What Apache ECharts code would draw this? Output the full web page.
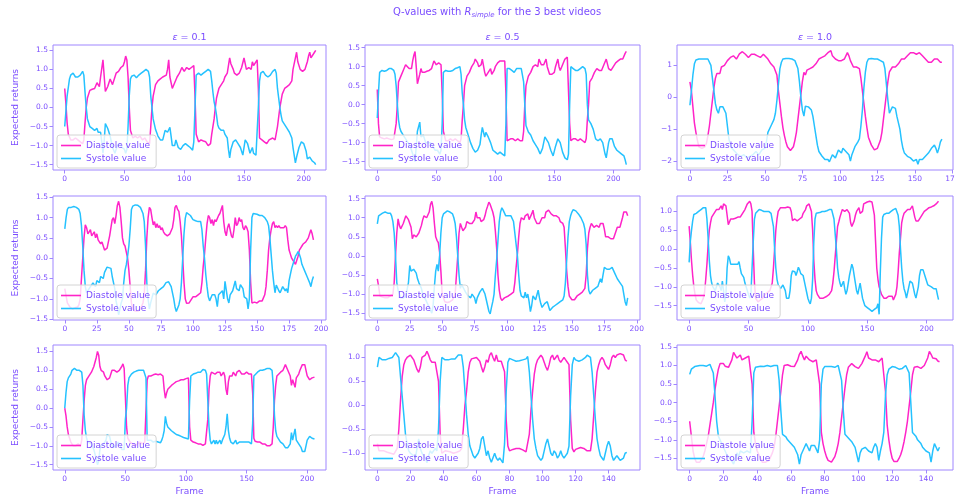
<!DOCTYPE html>
<html>
<head>
<meta charset="utf-8">
<script src="https://cdn.jsdelivr.net/npm/echarts@6/dist/echarts.min.js"></script>
<style>
html,body{margin:0;padding:0;background:#fff}
#chart{width:955px;height:502px}
</style>
</head>
<body>
<div id="chart"></div>
<script>
// Q-values per frame: [frame, value] pairs, one pair per sampled frame.
// Rows are videos 1..3, columns are epsilon 0.1 / 0.5 / 1.0.

const diastoleV1Eps01 = [[0,0.5],[1,0.1],[2,-0.4],[3,-0.7],[5,-0.85],[7,-0.85],[9,-0.8],[11,-0.85],[13,-0.9],[15,-0.95],[16,-0.85],[17,-0.4],[18,0],[19,0.25],[21,0.45],[23,0.48],[25,0.5],[27,0.65],[29,0.55],[30,0.8],[32,1.25],[34,0.42],[36,0.55],[38,0.75],[40,0.6],[43,0.9],[45,0.95],[47,1.05],[49,1.1],[50,1.2],[51,1.35],[52,1.25],[53,0.8],[54,0],[55,-0.6],[57,-0.8],[59,-0.75],[61,-0.8],[63,-0.75],[65,-0.85],[67,-0.8],[69,-0.9],[71,-0.95],[72,-0.5],[73,0],[74,0.3],[76,0.6],[78,0.7],[80,0.75],[82,0.8],[83,0.85],[85,0.85],[86,1],[87,1.25],[88,0.8],[90,0.5],[92,0.65],[94,0.8],[96,0.9],[98,1.05],[100,0.95],[102,1.05],[104,1],[106,1.05],[108,1.1],[109,0.3],[110,-0.7],[112,-0.9],[114,-0.85],[116,-0.88],[118,-0.9],[120,-1],[122,-0.95],[123,-0.7],[125,-0.3],[126,0],[127,0.25],[129,0.5],[131,0.6],[133,0.7],[134,0.8],[136,0.9],[138,1.3],[139,1.15],[141,1],[142,0.9],[144,0.85],[146,0.9],[148,1.05],[150,1.3],[152,1],[154,1.05],[156,1],[157,1.2],[158,1.1],[161,1.25],[162,0.5],[163,-0.8],[165,-0.85],[167,-0.9],[169,-0.95],[171,-0.85],[174,-0.8],[176,-0.85],[177,-0.9],[178,-0.5],[180,0],[182,0.35],[184,0.5],[186,0.55],[188,0.6],[190,0.7],[191,1],[193,1.3],[194,1.45],[195,1.2],[197,1],[199,0.95],[201,1],[202,1.1],[203,1.2],[204,1.35],[205,1.45],[206,1.3],[207,1.35],[209,1.45],[210,1.5]];
const systoleV1Eps01 = [[0,-0.5],[1,-0.1],[2,0.3],[4,0.75],[5,0.85],[7,0.9],[9,0.8],[11,0.8],[13,0.85],[15,0.95],[16,0.85],[17,0.4],[18,0],[19,-0.3],[21,-0.5],[23,-0.55],[25,-0.6],[27,-0.55],[28,-0.65],[29,-0.7],[30,-0.65],[31,-0.9],[32,-1.2],[33,-0.9],[34,-0.42],[36,-0.55],[38,-0.75],[40,-1.05],[42,-1.2],[44,-1],[46,-0.95],[48,-1.05],[50,-1.1],[51,-1.2],[52,-1.1],[53,-0.5],[54,0.3],[55,0.75],[56,0.82],[58,0.85],[60,0.78],[62,0.85],[64,0.9],[66,0.95],[68,1],[70,0.95],[71,0.8],[72,0.3],[73,0],[74,-0.3],[76,-0.58],[78,-0.75],[80,-0.85],[82,-0.85],[84,-0.6],[86,-0.65],[88,-0.52],[89,-0.75],[90,-1],[92,-1],[93,-0.85],[95,-1.05],[97,-1.1],[99,-1],[101,-0.95],[103,-1],[105,-1.05],[107,-1.12],[108,-0.9],[109,0],[110,0.85],[112,0.9],[114,0.85],[116,0.9],[118,0.95],[120,1],[122,0.95],[123,0.7],[124,0.4],[125,0.15],[126,0],[127,-0.2],[128,-0.45],[129,-0.54],[131,-0.6],[133,-0.6],[134,-0.7],[136,-0.8],[137,-1.1],[138,-1.32],[139,-1.1],[141,-0.9],[143,-0.85],[145,-0.95],[147,-1.05],[149,-1.25],[151,-0.85],[153,-0.95],[155,-1.2],[157,-1.05],[158,-1.2],[160,-1.25],[161,-1.2],[162,0],[163,0.7],[164,0.9],[166,0.95],[168,0.85],[170,0.8],[172,0.85],[174,0.95],[176,1],[177,0.9],[178,0.5],[179,0.25],[180,0],[181,-0.2],[182,-0.35],[184,-0.45],[186,-0.55],[188,-0.65],[190,-0.8],[191,-1.05],[193,-1.45],[194,-1.3],[196,-1.05],[198,-0.9],[200,-0.95],[202,-1.15],[203,-1.35],[205,-1.3],[207,-1.4],[209,-1.45],[210,-1.5]];

const diastoleV1Eps05 = [[0,0.4],[1,-0.5],[2,-0.85],[4,-0.88],[6,-0.9],[8,-0.88],[10,-0.9],[12,-0.92],[14,-0.9],[15,-0.85],[16,-0.5],[17,0],[18,0.6],[20,0.75],[22,0.9],[24,1.05],[25,1],[27,0.95],[29,0.95],[30,1.15],[31,1.3],[32,1.4],[33,1],[34,0.55],[36,0.8],[37,0.95],[38,0.85],[40,0.85],[42,0.88],[44,0.9],[46,0.95],[48,1.15],[50,1.05],[52,1.1],[53,1.15],[54,1.05],[55,0.3],[56,-0.7],[58,-0.95],[60,-0.95],[62,-0.9],[64,-0.95],[66,-0.9],[68,-0.95],[70,-1],[71,-0.9],[72,-0.4],[73,0],[74,0.5],[76,0.75],[78,0.85],[80,1],[82,1.1],[83,1.2],[85,1.1],[86,1],[88,1.05],[89,1.2],[91,0.85],[92,0.75],[94,0.85],[96,0.95],[97,0.8],[99,0.9],[100,1],[102,1.1],[104,1.15],[106,1.15],[108,1.15],[109,0.3],[110,-0.95],[111,-1],[113,-0.9],[115,-0.9],[117,-0.95],[119,-0.9],[121,-0.95],[123,-0.95],[124,-0.7],[125,0],[126,0.5],[128,0.75],[130,0.85],[132,1],[134,1.05],[136,1],[137,1.2],[139,1.05],[141,1.05],[143,1.2],[144,1],[146,0.8],[148,0.8],[150,0.85],[151,1],[153,1.2],[154,1],[155,0.9],[157,1.05],[159,1.2],[161,1.25],[162,1.2],[163,-0.5],[164,-0.95],[166,-0.9],[168,-0.9],[170,-0.95],[172,-0.9],[174,-0.95],[176,-1],[177,-0.9],[178,-0.4],[179,0],[180,0.6],[182,0.7],[184,0.85],[186,0.95],[188,0.9],[190,0.9],[192,1.05],[194,1.2],[196,0.95],[198,0.9],[200,1],[202,1.1],[204,1.15],[206,1.2],[208,1.2],[210,1.35],[211,1.4]];
const systoleV1Eps05 = [[0,-0.35],[1,0.3],[2,0.85],[4,0.9],[6,0.88],[8,0.9],[10,0.95],[12,0.95],[14,0.9],[15,0.8],[16,0.5],[17,0],[18,-0.4],[19,-0.6],[20,-0.7],[22,-0.8],[24,-0.9],[26,-1],[28,-1.1],[30,-1.3],[32,-1.5],[33,-1.1],[34,-0.7],[36,-0.46],[37,-0.85],[39,-0.8],[41,-1],[43,-1],[45,-1],[47,-1.1],[49,-1.2],[51,-1.2],[53,-1.3],[54,-1.2],[55,-0.5],[56,0.85],[58,0.9],[60,0.88],[62,0.88],[64,0.9],[66,0.95],[68,0.97],[70,1],[71,0.8],[72,0.3],[73,0],[74,-0.4],[75,-0.6],[77,-0.8],[79,-1],[81,-1.15],[83,-1.25],[85,-1.2],[87,-1.05],[88,-0.8],[89,-0.6],[91,-0.85],[92,-0.73],[94,-0.85],[96,-1],[98,-1.2],[100,-1.25],[102,-1.3],[104,-1.25],[106,-1.3],[108,-1.35],[109,-0.5],[110,0.95],[112,0.95],[114,0.9],[116,0.85],[118,0.95],[120,0.95],[122,0.95],[123,1],[124,0.6],[125,0],[126,-0.55],[128,-0.72],[130,-0.8],[132,-0.95],[134,-1.05],[136,-1.15],[138,-1.3],[140,-1.15],[142,-0.85],[143,-0.8],[145,-1],[147,-1.2],[149,-1.35],[151,-1.1],[153,-0.9],[155,-1],[157,-1.25],[159,-1.4],[161,-1.45],[162,-1.3],[163,0],[164,1],[166,0.95],[168,0.9],[170,0.9],[172,0.95],[174,1],[176,0.95],[177,0.8],[178,0],[179,-0.4],[181,-0.5],[183,-0.65],[185,-0.9],[187,-0.95],[189,-0.9],[191,-1],[193,-1.3],[194,-1.4],[196,-1],[197,-0.9],[199,-0.9],[201,-1.1],[203,-1.2],[205,-1.25],[207,-1.3],[209,-1.35],[210,-1.45],[211,-1.58]];

const diastoleV1Eps10 = [[0,0.48],[1,0.2],[2,-0.3],[3,-0.8],[4,-1.1],[5,-1.35],[6,-1.55],[8,-1.6],[10,-1.55],[11,-1.45],[12,-1.2],[13,-0.9],[14,-0.5],[15,-0.1],[16,0.3],[17,0.6],[18,0.75],[19,0.7],[20,0.75],[21,0.95],[23,1],[25,1.15],[27,1.25],[29,1.3],[31,1.2],[33,1.36],[35,1.43],[37,1.35],[39,1.25],[41,1.35],[43,1.35],[45,1.3],[47,1.25],[49,1.35],[50,1.4],[52,1.2],[54,1.05],[56,0.95],[57,0.9],[58,0.7],[59,0.2],[60,-0.2],[61,-0.6],[62,-0.95],[63,-1.2],[64,-1.4],[65,-1.55],[67,-1.67],[69,-1.55],[70,-1.35],[71,-1.1],[72,-0.7],[73,-0.3],[74,0.1],[75,0.5],[76,0.78],[77,0.7],[78,0.85],[80,0.9],[82,0.95],[84,1.05],[86,1.2],[88,1.25],[90,1.3],[92,1.4],[94,1.46],[95,1.3],[97,1.2],[99,1.15],[101,1.15],[103,1.2],[105,1.4],[106,1.3],[107,1.15],[109,0.95],[111,0.95],[113,0.9],[114,0.6],[115,0.2],[116,-0.2],[117,-0.6],[118,-0.95],[119,-1.25],[121,-1.5],[123,-1.65],[125,-1.6],[127,-1.35],[128,-1.1],[129,-0.7],[130,-0.3],[131,0.1],[132,0.5],[133,0.8],[134,0.75],[135,0.95],[137,0.95],[139,1.05],[141,1.2],[143,1.2],[145,1.3],[147,1.4],[149,1.4],[151,1.35],[153,1.4],[155,1.3],[157,1.2],[159,1.1],[161,1.1],[163,1.2],[165,1.2],[167,1.1],[168,1.1]];
const systoleV1Eps10 = [[0,-0.25],[1,0.2],[2,0.7],[3,1.05],[4,1.17],[6,1.2],[8,1.2],[10,1.2],[12,1.2],[13,1.15],[14,1],[15,0.6],[16,0.2],[17,-0.2],[18,-0.4],[19,-0.5],[20,-0.3],[21,-0.25],[22,-0.3],[23,-0.3],[24,-0.5],[25,-0.9],[26,-1.3],[27,-1.5],[28,-1.6],[30,-1.7],[32,-1.8],[34,-1.85],[36,-1.8],[38,-1.9],[40,-1.85],[42,-1.8],[44,-1.7],[46,-1.8],[48,-1.65],[50,-1.6],[51,-1.4],[52,-1.1],[54,-0.9],[56,-0.7],[57,-0.5],[58,-0.1],[59,0.4],[60,0.9],[61,1.1],[62,1.2],[64,1.22],[66,1.22],[68,1.2],[70,1.15],[71,1.1],[72,0.9],[73,0.5],[74,0],[75,-0.4],[76,-0.59],[77,-0.28],[79,-0.3],[81,-0.4],[82,-0.6],[83,-0.9],[84,-1.2],[85,-1.5],[86,-1.7],[88,-1.84],[90,-1.95],[92,-1.95],[93,-2.02],[95,-1.8],[96,-1.75],[97,-1.9],[99,-1.65],[101,-1.75],[102,-1.6],[104,-1.7],[106,-1.8],[107,-2],[108,-1.8],[110,-1.55],[112,-1.4],[113,-1.3],[114,-0.9],[115,-0.4],[116,0.3],[117,0.8],[118,1.1],[119,1.2],[121,1.22],[123,1.2],[125,1.2],[127,1.15],[129,1.1],[130,0.9],[131,0.4],[132,-0.1],[133,-0.5],[134,-0.55],[135,-0.3],[136,-0.35],[137,-0.35],[138,-0.6],[140,-1],[141,-1.35],[142,-1.6],[143,-1.75],[145,-1.85],[147,-1.9],[149,-2],[151,-1.95],[152,-2.1],[153,-1.95],[155,-1.95],[157,-1.85],[158,-1.9],[159,-1.75],[161,-1.6],[163,-1.5],[164,-1.6],[165,-1.75],[166,-1.6],[167,-1.4],[168,-1.31]];

const diastoleV2Eps01 = [[0,-0.75],[2,-1.1],[4,-1.2],[6,-1.25],[8,-1.22],[10,-1.2],[11,-1.15],[12,-1],[13,-0.5],[14,0],[15,0.5],[16,0.82],[17,0.75],[18,0.6],[19,0.65],[20,0.7],[21,0.55],[22,0.6],[23,0.65],[24,0.5],[25,0.6],[26,0.45],[27,0.45],[28,0.35],[29,0.4],[31,0.2],[33,0.25],[34,0.4],[35,0.55],[36,0.75],[37,0.95],[38,1],[39,0.85],[40,1.05],[41,1.3],[42,1.4],[43,1.25],[44,0.9],[45,0.5],[46,0.35],[47,0.3],[48,0.15],[49,0],[50,-0.3],[51,-0.7],[52,-1.1],[53,-1.25],[55,-1.3],[57,-1.3],[59,-1.25],[61,-1.1],[62,-0.9],[63,-0.3],[64,0.5],[65,1],[66,1.25],[67,1.2],[68,1],[69,0.82],[70,0.9],[71,0.75],[72,0.85],[73,0.75],[74,0.8],[75,0.7],[76,0.75],[77,0.65],[78,0.6],[80,0.55],[82,0.6],[84,0.75],[85,0.95],[86,1.25],[87,1.3],[88,1.2],[89,1.15],[90,0.9],[91,0.55],[92,0],[93,-0.6],[94,-1],[95,-1.11],[96,-1.15],[97,-1.1],[98,-1.05],[100,-0.95],[102,-0.95],[104,-0.9],[106,-0.85],[107,-0.6],[108,-0.2],[109,0.1],[110,0.5],[111,0.85],[112,1.05],[113,1],[114,0.85],[115,0.95],[116,0.8],[117,0.95],[118,0.9],[120,1.05],[121,1.1],[122,1.2],[123,1.3],[124,0.9],[125,0.65],[126,0.55],[127,0.75],[128,0.85],[129,0.7],[130,0.55],[131,0.5],[132,0.7],[133,1],[134,0.8],[135,0.85],[136,1],[137,0.9],[138,0.95],[139,0.75],[140,0.7],[141,0.8],[142,0.75],[143,0.65],[144,0.2],[145,-0.6],[146,-1.1],[147,-1.12],[148,-1.08],[150,-1.1],[152,-1.05],[154,-1.05],[156,-0.9],[157,-0.7],[158,-0.3],[159,0.2],[160,0.5],[161,0.7],[162,0.85],[163,0.9],[164,0.75],[165,0.8],[166,0.75],[167,0.8],[168,0.75],[169,0.78],[171,0.75],[172,0.8],[173,0.75],[174,0.45],[175,0.2],[176,0.1],[177,0],[178,-0.05],[179,-0.1],[180,-0.15],[181,-0.15],[182,0.05],[183,0.2],[184,0.25],[185,0.3],[186,0.35],[187,0.35],[188,0.4],[189,0.45],[190,0.5],[191,0.6],[192,0.7],[193,0.6],[194,0.45]];
const systoleV2Eps01 = [[0,0.72],[1,1],[2,1.2],[3,1.25],[5,1.25],[7,1.27],[9,1.25],[11,1.2],[12,1.1],[13,0.8],[14,0.3],[15,-0.3],[16,-0.7],[17,-0.85],[18,-0.8],[20,-0.7],[22,-0.61],[24,-0.7],[25,-0.55],[27,-0.6],[28,-0.45],[30,-0.5],[31,-0.35],[33,-0.22],[34,-0.2],[36,-0.25],[37,-0.45],[38,-0.6],[39,-0.75],[40,-1.05],[41,-1.2],[42,-1.39],[43,-1.25],[44,-1.1],[45,-1],[46,-0.6],[47,-0.3],[48,-0.16],[49,0.05],[50,0.3],[51,0.7],[52,1.2],[53,1.28],[55,1.31],[57,1.3],[59,1.25],[61,1.1],[62,0.9],[63,0.3],[64,-0.6],[65,-1],[66,-1.25],[67,-1.1],[69,-0.86],[71,-0.9],[73,-0.8],[75,-0.75],[77,-0.7],[79,-0.6],[81,-0.58],[83,-0.7],[85,-1],[86,-1.2],[87,-1.31],[89,-1.15],[90,-1],[91,-0.6],[92,0],[93,0.6],[94,0.98],[95,1.12],[96,1.15],[98,1.05],[100,0.95],[102,0.92],[104,0.9],[106,0.9],[107,0.7],[108,0.3],[109,0],[110,-0.4],[111,-0.7],[112,-0.95],[113,-1.05],[115,-0.9],[117,-0.9],[118,-1],[119,-1.19],[120,-0.9],[121,-0.9],[123,-0.8],[124,-1],[125,-0.57],[127,-1],[128,-1.1],[129,-0.9],[131,-0.8],[133,-0.56],[134,-0.75],[136,-0.8],[137,-0.65],[139,-0.75],[140,-0.95],[142,-1],[143,-1.25],[144,-1],[145,0.2],[146,1],[147,1.1],[148,1.12],[150,1.08],[152,1.05],[154,1.05],[156,1],[158,0.9],[159,0.8],[160,0.5],[161,0.1],[162,-0.3],[163,-0.6],[164,-0.85],[165,-0.66],[166,-0.7],[167,-0.8],[168,-0.85],[170,-0.7],[172,-0.8],[173,-0.75],[174,-0.85],[175,-0.55],[176,-0.4],[177,-0.25],[178,-0.15],[179,-0.05],[180,0.05],[181,0.1],[182,0.16],[183,0.1],[184,0],[185,-0.15],[187,-0.3],[189,-0.45],[191,-0.6],[192,-0.7],[193,-0.55],[194,-0.45]];

const diastoleV2Eps05 = [[0,-0.6],[1,-0.8],[2,-1.05],[4,-1.08],[6,-1.1],[8,-1.1],[10,-1.05],[12,-1],[13,-0.7],[14,0],[15,0.6],[16,0.97],[17,0.8],[18,0.71],[19,0.75],[20,0.85],[21,0.9],[22,1.05],[23,1],[24,0.95],[25,0.9],[26,0.75],[27,0.45],[28,0.55],[29,0.6],[30,0.5],[31,0.55],[32,0.6],[33,0.7],[34,0.8],[35,0.95],[36,1.05],[37,1.05],[38,1],[39,1.05],[40,1.15],[41,1.35],[42,1.43],[43,1.25],[44,0.85],[45,0.5],[46,0.41],[47,0.35],[48,0.1],[49,-0.4],[50,-1],[51,-1.1],[52,-1.2],[54,-1.22],[56,-1.2],[58,-1.15],[59,-1.1],[60,-1],[61,-0.5],[62,0],[63,0.6],[64,0.85],[65,0.75],[66,0.66],[67,0.7],[68,0.75],[69,0.9],[70,0.95],[71,0.85],[72,0.9],[73,0.85],[74,0.9],[75,0.95],[76,1.15],[77,1],[78,0.95],[79,1],[80,0.9],[81,0.85],[82,0.95],[83,1.05],[84,1.2],[85,1.3],[86,1.41],[87,1.35],[88,1.3],[89,1.15],[90,1],[91,0.65],[92,0.2],[93,-0.5],[94,-0.9],[95,-1.1],[96,-1.17],[97,-1.15],[98,-1.1],[99,-1.05],[101,-1.05],[103,-1],[105,-0.95],[106,-0.7],[107,-0.3],[108,0.05],[109,0.5],[110,0.85],[111,1],[112,1.05],[113,0.95],[114,1.05],[115,1],[116,1.1],[117,0.95],[118,1],[119,1.1],[120,1.2],[121,1],[122,0.95],[123,0.85],[124,0.9],[125,0.85],[126,0.9],[127,1],[128,1.05],[129,1],[130,1.15],[131,1.2],[132,1.2],[133,1.15],[134,1.1],[135,1.1],[136,1.05],[138,1.05],[140,1],[141,0.9],[143,0.85],[144,0.75],[145,0.2],[146,-0.4],[147,-0.8],[148,-1.05],[150,-1.15],[151,-1.2],[152,-1.15],[154,-1.05],[156,-1],[158,-0.95],[160,-0.85],[161,-0.5],[162,0.2],[163,0.6],[164,0.75],[165,0.85],[166,0.8],[167,0.75],[168,0.8],[169,0.8],[170,0.85],[171,0.75],[172,0.85],[173,0.8],[174,0.85],[175,0.7],[176,0.5],[177,0.45],[178,0.5],[179,0.5],[180,0.45],[181,0.4],[182,0.45],[183,0.55],[184,0.6],[185,0.75],[186,0.8],[187,0.75],[188,0.8],[189,1],[190,1.15],[191,1.2],[192,1.15],[193,1.05]];
const systoleV2Eps05 = [[0,0.84],[1,1.05],[2,1.1],[4,1.12],[6,1.15],[8,1.12],[10,1.12],[11,1.05],[12,0.9],[13,0.6],[14,0],[15,-0.7],[16,-0.9],[17,-1],[18,-1.1],[20,-1.1],[22,-1.05],[24,-0.7],[25,-0.25],[26,-0.4],[27,-0.45],[28,-0.35],[30,-0.45],[31,-0.6],[32,-0.7],[33,-0.75],[34,-0.85],[35,-1],[36,-1.05],[38,-1.2],[40,-1.35],[42,-1.5],[43,-1.3],[44,-0.8],[45,-0.4],[46,-0.22],[47,-0.4],[48,0],[49,0.6],[50,1],[51,1.1],[52,1.15],[54,1.18],[56,1.15],[58,1.1],[59,1],[60,0.85],[61,0.5],[62,0],[63,-0.5],[64,-0.85],[65,-0.75],[66,-0.8],[68,-0.95],[70,-1.05],[71,-1],[72,-1.1],[73,-1],[75,-1.1],[76,-1.25],[77,-1.1],[79,-0.95],[81,-0.85],[82,-0.9],[83,-1],[84,-1.15],[85,-1.3],[86,-1.45],[87,-1.52],[88,-1.35],[89,-1.2],[90,-1],[91,-0.5],[92,-0.1],[93,0.4],[94,0.9],[95,1.15],[96,1.26],[97,1.2],[98,1.15],[99,1.05],[101,1.05],[103,1.05],[104,1],[105,0.9],[106,0.6],[107,0.3],[108,0],[109,-0.5],[110,-0.9],[111,-1.05],[112,-1],[113,-1.1],[114,-0.95],[115,-1.1],[116,-1],[117,-1.2],[118,-1.46],[119,-1.3],[120,-1.05],[121,-1],[122,-1.15],[123,-1.1],[124,-0.9],[125,-1.1],[126,-1.25],[127,-1.35],[129,-1.25],[131,-1.2],[133,-1.43],[135,-1.35],[137,-1.3],[139,-1.25],[141,-1.2],[143,-1.15],[144,-1.05],[145,-0.7],[146,-0.1],[147,0.5],[148,0.9],[149,1.05],[150,1.15],[151,1.21],[152,1.22],[153,1.18],[155,1.1],[157,1],[159,0.85],[160,0.7],[161,0.3],[162,-0.5],[163,-0.9],[164,-1],[165,-0.95],[166,-0.9],[168,-0.85],[170,-0.8],[171,-0.7],[172,-0.6],[173,-0.7],[174,-0.5],[175,-0.3],[176,-0.25],[177,-0.35],[178,-0.4],[179,-0.35],[181,-0.3],[182,-0.35],[183,-0.45],[185,-0.6],[187,-0.7],[188,-0.75],[189,-0.8],[190,-1],[191,-1.2],[192,-1.3],[193,-1.1]];

const diastoleV2Eps10 = [[0,0.61],[1,0.2],[2,-0.3],[3,-0.7],[4,-1],[5,-1.2],[6,-1.35],[7,-1.4],[8,-1.42],[10,-1.45],[11,-1.4],[12,-1.3],[13,-1.15],[14,-0.8],[15,-0.4],[16,0.1],[17,0.5],[18,0.7],[19,0.85],[21,0.95],[23,1.05],[24,1.1],[25,1.05],[26,1.1],[27,1.15],[28,1.05],[29,1.2],[30,1.25],[31,1.15],[32,0.9],[33,0.65],[34,0.7],[35,0.8],[37,0.8],[39,0.82],[41,0.85],[43,0.85],[45,0.95],[47,1.05],[49,1.2],[51,1.27],[52,1.2],[53,1],[54,0],[55,-0.9],[56,-1.3],[57,-1.35],[58,-1.4],[60,-1.35],[62,-1.3],[64,-1.2],[66,-1.15],[68,-1.1],[70,-0.9],[71,-0.5],[72,0],[73,0.5],[74,0.8],[75,1],[77,1.1],[79,1.1],[81,1.1],[83,1.12],[84,1.15],[85,1.1],[86,1],[87,0.76],[88,0.8],[89,0.8],[90,0.75],[91,0.75],[92,0.72],[93,0.8],[94,0.8],[95,0.85],[96,0.95],[97,1],[98,1.05],[99,1.15],[100,1.2],[101,1.2],[102,1.15],[103,1],[104,0.5],[105,-0.3],[106,-0.8],[107,-1.1],[108,-1.2],[110,-1.3],[111,-1.34],[113,-1.3],[114,-1.25],[116,-1.25],[118,-1.2],[120,-1.1],[121,-0.9],[122,-0.6],[123,-0.2],[124,0.2],[125,0.6],[126,0.72],[127,0.85],[128,0.95],[129,1.05],[131,1],[133,1.05],[134,1.1],[135,0.95],[136,0.7],[137,0.6],[138,0.65],[139,0.75],[140,0.9],[141,1],[142,1.05],[143,1.1],[144,0.95],[145,0.9],[146,1],[147,1.2],[148,1.25],[150,1.25],[152,1.27],[154,1.25],[155,1.2],[156,0.9],[157,0.2],[158,-0.5],[159,-0.8],[160,-1],[161,-1.05],[162,-1.2],[163,-1.25],[164,-1.3],[166,-1.3],[168,-1.25],[169,-1.3],[171,-1.25],[172,-1.35],[173,-1.3],[174,-1.2],[175,-1],[176,-0.6],[177,-0.1],[178,0.3],[179,0.7],[180,0.85],[181,0.95],[182,1],[184,1.05],[186,1.05],[187,1.1],[188,1.15],[189,1],[190,0.85],[191,0.75],[192,0.72],[193,0.75],[194,0.8],[195,0.85],[196,0.9],[198,1],[200,1.05],[202,1.1],[204,1.12],[206,1.15],[208,1.2],[210,1.27]];
const systoleV2Eps10 = [[0,-0.35],[1,0.2],[2,0.5],[3,0.75],[4,0.92],[6,0.95],[8,1],[10,1.05],[12,1.1],[13,1.15],[14,1.1],[15,0.8],[16,0.3],[17,-0.3],[18,-0.7],[19,-0.9],[20,-1],[21,-1.05],[22,-1.1],[23,-1.05],[24,-0.9],[25,-0.95],[26,-1],[27,-1.1],[28,-0.85],[29,-1.1],[30,-1.4],[31,-1.2],[32,-0.5],[33,-0.18],[34,-0.25],[35,-0.4],[36,-0.45],[37,-0.4],[39,-0.4],[41,-0.4],[42,-0.33],[43,-0.5],[44,-0.65],[45,-0.6],[46,-0.75],[47,-0.9],[48,-1],[49,-1.1],[50,-1.2],[51,-1.3],[52,-1.2],[53,-0.5],[54,0.2],[55,0.8],[56,0.95],[57,1],[59,1.05],[61,1.03],[63,1],[65,1],[67,1],[69,0.95],[70,0.9],[71,0.6],[72,0],[73,-0.5],[74,-0.8],[75,-0.95],[76,-1],[77,-1.05],[78,-1],[79,-0.95],[80,-1],[81,-1.1],[82,-1.3],[83,-1.35],[84,-1.3],[85,-1.1],[86,-0.7],[87,-0.58],[88,-0.55],[89,-0.6],[90,-0.7],[91,-0.6],[92,-0.48],[93,-0.55],[94,-0.65],[95,-0.6],[96,-0.7],[97,-0.85],[98,-1],[99,-1.15],[100,-1.3],[101,-1.39],[102,-1.45],[103,-1.3],[104,-0.8],[105,0.2],[106,0.8],[107,0.95],[108,0.97],[110,0.97],[112,1],[114,1],[116,1.02],[118,1.05],[120,1.05],[121,1],[122,0.8],[123,0.4],[124,0],[125,-0.5],[126,-0.75],[127,-0.9],[128,-1],[129,-0.95],[130,-0.85],[131,-1.05],[132,-1.2],[133,-1.1],[134,-0.9],[135,-0.7],[136,-0.55],[137,-0.4],[138,-0.5],[139,-0.7],[140,-0.9],[141,-1.1],[142,-1.2],[143,-1.05],[144,-0.9],[145,-1.1],[146,-1.3],[147,-1.4],[148,-1.5],[150,-1.55],[152,-1.6],[154,-1.65],[155,-1.7],[156,-1.6],[158,-1.55],[159,-1.45],[160,-1.73],[161,-0.6],[162,0.3],[163,0.85],[164,0.92],[166,0.95],[168,0.95],[170,1],[172,1.05],[174,1.08],[175,1.05],[176,0.9],[177,0.6],[178,0],[179,-0.5],[180,-0.85],[181,-1.05],[182,-1.15],[183,-1.3],[184,-1.15],[185,-1],[186,-0.85],[187,-0.8],[188,-0.9],[189,-1.05],[190,-1.2],[191,-1.3],[192,-1.25],[193,-1],[194,-0.7],[195,-0.55],[196,-0.51],[197,-0.55],[198,-0.6],[199,-0.75],[200,-0.85],[201,-0.95],[202,-1],[204,-1],[206,-1.05],[207,-1],[208,-1.05],[209,-1.2],[210,-1.34]];

const diastoleV3Eps01 = [[0,0],[1,-0.2],[2,-0.5],[3,-0.7],[4,-0.8],[5,-0.9],[7,-1],[9,-1],[11,-0.95],[13,-1],[14,-0.85],[15,-0.3],[16,0.2],[17,0.6],[18,0.75],[20,0.85],[22,0.95],[24,1.1],[26,1.34],[27,1.5],[28,1.4],[29,1.1],[30,1],[31,0.95],[32,0.95],[33,0.85],[34,0.8],[35,0.75],[36,0.7],[37,0.8],[38,0.9],[39,1],[40,1.05],[41,1],[42,1.05],[43,0.95],[44,0.9],[45,1],[46,1],[47,1.1],[48,1.17],[49,1.05],[50,0.3],[51,-0.5],[52,-0.8],[54,-0.9],[56,-0.95],[58,-1],[60,-0.95],[62,-0.9],[64,-0.95],[66,-0.9],[67,-0.85],[68,0.75],[69,0.85],[71,0.85],[73,0.88],[75,0.9],[77,0.88],[79,0.9],[80,0.95],[81,0.85],[82,0.5],[83,0.26],[84,0.4],[85,0.5],[86,0.55],[88,0.6],[90,0.65],[92,0.7],[94,0.72],[96,0.75],[98,0.75],[100,0.78],[101,0.82],[102,0.8],[103,-0.5],[104,-0.85],[106,-0.9],[108,-0.92],[110,-0.95],[112,-0.95],[114,-0.99],[116,-0.95],[117,-0.9],[118,-0.3],[119,0.5],[120,0.85],[121,0.95],[122,1],[124,0.9],[125,0.85],[126,0.95],[127,1],[128,0.95],[129,0.85],[130,0.9],[131,0.95],[132,0.85],[133,0.5],[134,0.35],[135,0.7],[136,0.85],[137,0.9],[138,0.85],[139,0.95],[140,0.95],[141,0.85],[142,0.95],[143,0.9],[144,1],[145,0.95],[146,0.9],[147,0.95],[148,0.9],[149,0.9],[150,0.95],[151,0.9],[152,0.9],[153,0.95],[154,0.9],[155,0.4],[156,-0.8],[157,-0.88],[159,-0.9],[161,-0.9],[163,-0.95],[165,-0.95],[167,-1],[169,-1],[171,-0.95],[172,-0.5],[173,0.2],[174,0.6],[175,0.85],[176,0.9],[178,0.95],[180,1],[181,1.05],[182,1.15],[183,1.1],[184,1],[185,1.05],[186,0.85],[187,0.6],[188,0.75],[189,0.8],[190,0.55],[191,0.8],[192,0.75],[193,0.9],[194,1],[195,1.05],[196,1.15],[197,1.2],[198,1.15],[199,1],[200,0.85],[201,0.8],[202,0.75],[203,0.8],[204,0.8],[205,0.85],[206,0.82]];
const systoleV3Eps01 = [[0,0],[1,0.4],[2,0.7],[3,0.8],[4,0.85],[5,0.9],[6,1],[7,1.02],[8,1.05],[10,1],[12,1],[14,0.95],[15,0.6],[16,-0.2],[17,-0.6],[18,-0.8],[19,-0.9],[20,-0.85],[22,-0.95],[24,-1.1],[26,-1.35],[27,-1.5],[28,-1.4],[29,-1.1],[30,-1],[32,-0.95],[34,-0.85],[35,-0.7],[36,-0.66],[37,-0.75],[38,-0.9],[40,-1.05],[42,-1],[44,-0.9],[46,-1],[47,-1.1],[48,-1.15],[49,-1.1],[50,-0.3],[51,0],[52,0.6],[53,0.8],[55,0.9],[57,0.95],[59,0.98],[61,1],[63,1],[65,1],[66,0.95],[67,0.8],[68,-0.85],[69,-0.9],[71,-0.85],[73,-0.9],[75,-0.88],[77,-0.9],[79,-0.92],[80,-0.85],[81,-0.75],[82,-0.6],[83,-0.22],[84,-0.4],[85,-0.5],[86,-0.55],[88,-0.6],[90,-0.65],[92,-0.7],[94,-0.72],[96,-0.75],[98,-0.78],[100,-0.8],[102,-0.82],[103,0.2],[104,0.85],[106,0.9],[108,0.92],[110,0.95],[112,0.95],[114,1.02],[116,1],[117,0.9],[118,0.2],[119,-0.5],[120,-0.85],[121,-0.95],[122,-0.95],[123,-0.85],[124,-0.95],[125,-0.85],[126,-0.95],[127,-0.9],[128,-0.85],[129,-0.95],[130,-0.85],[131,-0.9],[132,-0.7],[133,-0.5],[134,-0.15],[135,-0.6],[136,-0.8],[137,-0.9],[138,-0.85],[139,-0.95],[140,-0.9],[141,-0.85],[142,-0.95],[143,-0.9],[144,-0.9],[145,-0.95],[146,-0.9],[147,-0.85],[148,-0.9],[149,-0.95],[150,-0.9],[151,-0.88],[152,-0.9],[153,-0.9],[154,-0.95],[155,-0.4],[156,0.85],[157,0.9],[159,0.95],[161,1],[163,1],[165,1.02],[167,1.05],[169,1.05],[171,1],[172,0.6],[173,-0.2],[174,-0.6],[175,-0.75],[176,-0.8],[178,-0.9],[180,-0.95],[182,-1.05],[183,-1.1],[184,-1.05],[185,-1],[186,-0.95],[187,-0.65],[188,-0.85],[189,-0.85],[190,-0.55],[191,-0.85],[192,-0.8],[193,-0.95],[194,-1],[195,-1.05],[196,-1.15],[197,-1.19],[198,-1.15],[199,-1],[200,-0.85],[201,-0.8],[202,-0.75],[203,-0.78],[204,-0.8],[205,-0.82],[206,-0.82]];

const diastoleV3Eps05 = [[0,-0.8],[1,-0.95],[2,-0.97],[4,-0.95],[6,-0.98],[8,-1],[10,-1.02],[11,-1],[12,-0.9],[13,-0.5],[14,0.1],[15,0.6],[16,0.85],[17,0.95],[18,1],[19,1.02],[20,1.05],[21,1],[22,0.95],[23,0.85],[24,0.75],[25,0.69],[26,0.8],[27,1],[28,1.02],[29,1.05],[30,1.13],[31,1.05],[32,0.95],[33,0.9],[34,0.88],[35,0.9],[36,0.92],[37,0.5],[38,-0.6],[39,-1],[40,-0.97],[41,-0.95],[42,-0.93],[44,-0.97],[46,-1],[48,-0.98],[50,-0.95],[51,-0.9],[52,-0.5],[53,0],[54,0.3],[55,0.7],[56,0.9],[57,0.97],[58,1],[60,1],[61,0.97],[62,0.92],[63,0.8],[64,0.69],[65,0.8],[66,0.95],[67,0.9],[68,1.05],[69,1.1],[70,1],[71,0.92],[72,1.05],[73,0.92],[74,0.9],[75,0.92],[76,0.9],[77,0.7],[78,-0.3],[79,-0.85],[80,-0.95],[82,-0.92],[84,-0.9],[86,-0.9],[88,-0.93],[90,-0.97],[91,-0.95],[92,-0.6],[93,-0.1],[94,0.3],[95,0.65],[96,0.85],[97,0.95],[98,1],[99,1.05],[100,1],[101,0.9],[102,0.8],[103,0.73],[104,0.85],[105,1],[106,1.05],[107,0.95],[108,1],[109,1.05],[110,0.95],[111,0.9],[112,0.95],[113,1],[114,0.95],[115,0.9],[116,0.85],[117,-0.3],[118,-0.9],[119,-0.97],[120,-0.92],[121,-0.9],[123,-0.88],[125,-0.9],[127,-0.95],[128,-0.98],[129,-0.95],[130,-0.7],[131,-0.2],[132,0.3],[133,0.7],[134,0.85],[135,0.95],[136,1],[137,0.95],[138,0.85],[139,0.8],[140,0.75],[141,0.85],[142,1],[143,1.05],[144,1],[145,1.05],[146,1.05],[147,1.08],[148,1.1],[149,1.05],[150,0.95],[151,0.92]];
const systoleV3Eps05 = [[0,0.8],[1,1],[2,0.97],[3,0.95],[4,0.92],[5,0.95],[6,0.97],[7,0.98],[8,0.98],[9,1],[10,1.05],[11,1.1],[12,1.12],[13,1],[14,0.6],[15,0.2],[16,-0.2],[17,-0.6],[18,-0.8],[19,-0.95],[20,-1],[22,-1.05],[23,-1.1],[24,-0.9],[25,-0.7],[26,-0.9],[27,-1],[28,-1.05],[29,-1.1],[30,-1.2],[31,-1.05],[32,-0.95],[33,-1],[34,-0.95],[35,-0.9],[36,-0.95],[37,-0.5],[38,0.5],[39,1],[40,0.98],[41,0.95],[42,0.93],[43,0.95],[44,0.95],[45,0.97],[46,0.95],[47,0.97],[48,1],[49,1.05],[50,1.07],[51,1.05],[52,0.8],[53,0.3],[54,-0.2],[55,-0.6],[56,-0.85],[57,-0.95],[58,-1.05],[59,-1.1],[60,-1.1],[61,-1],[62,-0.9],[63,-0.7],[64,-0.65],[65,-0.85],[66,-1.05],[67,-0.95],[68,-1.1],[69,-1.19],[70,-1.2],[71,-1],[72,-1.1],[73,-1.15],[74,-1.1],[75,-1.15],[76,-1.2],[77,-0.8],[78,0.3],[79,0.9],[80,0.98],[82,0.95],[84,0.92],[86,0.93],[88,0.95],[90,0.97],[91,1.02],[92,0.7],[93,0.2],[94,-0.3],[95,-0.7],[96,-0.9],[97,-1.05],[98,-1.1],[99,-1.15],[100,-1.1],[101,-0.95],[102,-0.8],[103,-0.7],[104,-0.85],[105,-1],[106,-1.05],[107,-0.95],[108,-1],[109,-1.1],[110,-1.05],[111,-0.95],[112,-1.05],[113,-1.1],[114,-1.05],[115,-1],[116,-0.85],[117,0.2],[118,0.85],[119,1],[120,0.95],[121,0.93],[122,0.92],[123,0.95],[124,0.95],[125,0.97],[126,1],[127,1.05],[128,1.07],[129,1],[130,0.7],[131,0.2],[132,-0.3],[133,-0.7],[134,-0.9],[135,-1.05],[136,-1.1],[137,-1.15],[138,-1],[139,-0.85],[140,-0.75],[141,-0.85],[142,-1.05],[143,-1.15],[144,-1.1],[145,-1.05],[146,-1.1],[147,-1.15],[148,-1.18],[149,-1.1],[150,-1],[151,-0.98]];

const diastoleV3Eps10 = [[0,-0.5],[1,-0.9],[2,-1.3],[3,-1.5],[4,-1.6],[5,-1.62],[6,-1.6],[7,-1.55],[8,-1.45],[9,-1.3],[10,-1.1],[11,-0.9],[12,-0.6],[13,-0.3],[14,0],[15,0.35],[16,0.65],[17,0.9],[18,1.05],[19,1.1],[20,1.05],[21,0.98],[22,0.95],[23,0.95],[24,1],[25,1.15],[26,1.35],[27,1.3],[28,1.2],[29,1.25],[30,1.28],[31,1.15],[32,1.15],[33,1.2],[34,1.2],[35,1.25],[36,1.22],[37,0.5],[38,-0.8],[39,-1.1],[40,-1.3],[42,-1.5],[43,-1.6],[45,-1.6],[47,-1.55],[49,-1.35],[50,-1.2],[51,-0.9],[52,-0.5],[53,-0.1],[54,0.3],[55,0.75],[56,1],[57,1.05],[58,1.02],[59,1],[60,0.98],[61,0.95],[62,0.97],[63,1],[64,1.15],[65,1.3],[66,1.38],[67,1.25],[68,1.15],[69,1.25],[70,1.2],[71,1.15],[72,1.1],[73,1.1],[74,1.15],[75,1.15],[76,1.2],[77,0.5],[78,-0.8],[79,-1.1],[80,-1.3],[81,-1.45],[82,-1.55],[83,-1.6],[84,-1.6],[85,-1.55],[86,-1.45],[87,-1.3],[88,-1.1],[89,-0.8],[90,-0.4],[91,0],[92,0.4],[93,0.75],[94,0.95],[95,1],[96,1.05],[97,1],[98,0.97],[99,0.95],[100,0.92],[101,0.95],[102,1.05],[103,1.15],[104,1.25],[105,1.37],[106,1.2],[107,1.15],[108,1.15],[109,1.2],[110,1.15],[111,1.12],[112,1.1],[113,1.15],[114,1.2],[115,1.15],[116,0.3],[117,-0.6],[118,-1],[119,-1.3],[120,-1.5],[121,-1.58],[122,-1.6],[123,-1.58],[124,-1.5],[125,-1.4],[126,-1.25],[127,-1.05],[128,-0.8],[129,-0.5],[130,-0.1],[131,0.3],[132,0.75],[133,0.95],[134,1],[135,0.97],[136,0.95],[137,0.92],[138,0.95],[139,1],[140,1.1],[141,1.2],[142,1.38],[143,1.3],[144,1.2],[145,1.2],[146,1.18],[147,1.12],[148,1.1]];
const systoleV3Eps10 = [[0,0.76],[1,0.9],[2,0.95],[3,0.97],[4,0.98],[6,1],[8,1],[9,0.98],[10,0.98],[11,1],[12,1.03],[13,1.02],[14,0.8],[15,0.2],[16,-0.5],[17,-0.9],[18,-1],[19,-1.1],[20,-1.2],[22,-1.4],[24,-1.5],[26,-1.65],[27,-1.5],[28,-1.35],[29,-1.45],[30,-1.3],[32,-1.35],[34,-1.3],[36,-1.35],[37,-0.5],[38,0.8],[39,0.95],[40,0.97],[42,0.98],[44,0.97],[46,1],[48,0.97],[50,1],[51,1.03],[52,1],[53,0.6],[54,-0.2],[55,-0.85],[56,-0.9],[57,-0.92],[58,-1],[59,-1.05],[60,-1.1],[61,-1.05],[62,-1.2],[63,-1.25],[64,-1.4],[65,-1.65],[66,-1.4],[67,-1.3],[68,-1.2],[69,-1.1],[70,-1.2],[71,-1.3],[72,-1.15],[73,-1.2],[74,-1.15],[75,-1.25],[76,-1.35],[77,-1],[78,0.5],[79,0.9],[80,0.97],[82,0.97],[84,0.97],[86,0.95],[88,1],[89,1],[90,0.6],[91,-0.2],[92,-0.85],[93,-0.9],[94,-0.95],[95,-1],[96,-1.05],[97,-1.1],[98,-1.2],[99,-1.25],[100,-1.6],[101,-1.35],[102,-1.25],[103,-1.3],[104,-1.2],[105,-1.15],[106,-1.3],[107,-1.25],[108,-1.35],[109,-1.2],[110,-1.1],[111,-1.2],[112,-1.55],[113,-1.3],[114,-1.1],[115,-0.8],[116,0.2],[117,0.75],[118,0.9],[119,0.95],[120,0.97],[122,0.95],[124,0.9],[126,0.92],[128,1],[129,1.02],[130,0.8],[131,0],[132,-0.8],[133,-0.85],[134,-0.9],[135,-1],[136,-1.05],[137,-1.1],[138,-1.2],[139,-1.25],[140,-1.3],[141,-1.25],[142,-1.35],[143,-1.6],[144,-1.3],[145,-1.1],[146,-1.2],[147,-1.3],[148,-1.2]];

// Series names, panel titles and tick positions
const seriesNames = ['Diastole value', 'Systole value'];
const epsilonLabels = ['0.1', '0.5', '1.0'];
const xTicksBy50 = [0, 50, 100, 150, 200];
const xTicksBy25 = [0, 25, 50, 75, 100, 125, 150, 175, 200];
const xTicksBy20 = [0, 20, 40, 60, 80, 100, 120, 140];
const yTicksHalf = [-1.5, -1.0, -0.5, 0.0, 0.5, 1.0, 1.5];
const yTicksUnit = [-2, -1, 0, 1];
const yTicksToOne = [-1.5, -1.0, -0.5, 0.0, 0.5, 1.0];
const yTicksNarrow = [-1.0, -0.5, 0.0, 0.5, 1.0];

// Styling
const FONT = 'DejaVu Sans';
const INK = '#7a4cff';
const SPINE = '#9f86ff';
const DIA_COLOR = '#ff24c8';
const SYS_COLOR = '#25c2ff';

// Layout of the 3x3 grid (pixels)
const colLeft = [53, 365, 677];
const colWidth = [273, 275, 276];
const rowTop = [45, 196, 345];
const rowHeight = [125, 124, 125];

// Per-panel data and axis extents, row-major (video rows, epsilon columns)
const panels = [
  {dia: diastoleV1Eps01, sys: systoleV1Eps01, x: [-9.8, 218.6], y: [-1.64, 1.64], xt: xTicksBy50, yt: yTicksHalf, dec: 1},
  {dia: diastoleV1Eps05, sys: systoleV1Eps05, x: [-10.4, 222.6], y: [-1.72, 1.57], xt: xTicksBy50, yt: yTicksHalf, dec: 1},
  {dia: diastoleV1Eps10, sys: systoleV1Eps10, x: [-8.6, 175.4], y: [-2.28, 1.64], xt: xTicksBy25, yt: yTicksUnit, dec: 0},
  {dia: diastoleV2Eps01, sys: systoleV2Eps01, x: [-9.2, 203.8], y: [-1.52, 1.53], xt: xTicksBy25, yt: yTicksHalf, dec: 1},
  {dia: diastoleV2Eps05, sys: systoleV2Eps05, x: [-9.5, 202.5], y: [-1.68, 1.57], xt: xTicksBy25, yt: yTicksHalf, dec: 1},
  {dia: diastoleV2Eps10, sys: systoleV2Eps10, x: [-10.2, 222.2], y: [-1.88, 1.41], xt: xTicksBy50, yt: yTicksToOne, dec: 1},
  {dia: diastoleV3Eps01, sys: systoleV3Eps01, x: [-9.7, 215.5], y: [-1.64, 1.67], xt: xTicksBy50, yt: yTicksHalf, dec: 1},
  {dia: diastoleV3Eps05, sys: systoleV3Eps05, x: [-7.5, 159.0], y: [-1.35, 1.26], xt: xTicksBy20, yt: yTicksNarrow, dec: 1},
  {dia: diastoleV3Eps10, sys: systoleV3Eps10, x: [-7.5, 156.0], y: [-1.81, 1.55], xt: xTicksBy20, yt: yTicksHalf, dec: 1}
];

function fmt(dec) {
  return function (v) {
    const s = Math.abs(v).toFixed(dec);
    return (v < 0 ? '\u2212' : '') + s;
  };
}

const grids = [], xAxes = [], yAxes = [], series = [], legends = [];
const labelStyle = {color: INK, fontSize: 7.5, fontFamily: FONT};

panels.forEach(function (p, i) {
  const r = Math.floor(i / 3), c = i % 3;
  grids.push({
    left: colLeft[c], top: rowTop[r], width: colWidth[c], height: rowHeight[r],
    show: true, borderColor: SPINE, borderWidth: 1, backgroundColor: 'transparent',
    containLabel: false, outerBoundsMode: 'none'
  });
  xAxes.push({
    gridIndex: i, type: 'value', min: p.x[0], max: p.x[1], position: 'bottom',
    axisLine: {show: false, onZero: false},
    axisTick: {show: true, length: 3.5, lineStyle: {color: SPINE}, customValues: p.xt},
    axisLabel: Object.assign({customValues: p.xt, margin: 5, formatter: fmt(0)}, labelStyle),
    splitLine: {show: false},
    name: r === 2 ? 'Frame' : '', nameLocation: 'middle', nameGap: 17,
    nameTextStyle: {color: INK, fontSize: 9, fontFamily: FONT}
  });
  yAxes.push({
    gridIndex: i, type: 'value', min: p.y[0], max: p.y[1], position: 'left',
    axisLine: {show: false, onZero: false},
    axisTick: {show: true, length: 3.5, lineStyle: {color: SPINE}, customValues: p.yt},
    axisLabel: Object.assign({customValues: p.yt, margin: 5, formatter: fmt(p.dec)}, labelStyle),
    splitLine: {show: false},
    name: c === 0 ? 'Expected returns' : '', nameLocation: 'middle', nameGap: 33, nameRotate: 90,
    nameTextStyle: {color: INK, fontSize: 9, fontFamily: FONT}
  });
  series.push({
    type: 'line', name: seriesNames[0], xAxisIndex: i, yAxisIndex: i, data: p.dia,
    symbol: 'none', lineStyle: {width: 1.5, color: DIA_COLOR}, itemStyle: {color: DIA_COLOR},
    animation: false, silent: true
  });
  series.push({
    type: 'line', name: seriesNames[1], xAxisIndex: i, yAxisIndex: i, data: p.sys,
    symbol: 'none', lineStyle: {width: 1.5, color: SYS_COLOR}, itemStyle: {color: SYS_COLOR},
    animation: false, silent: true
  });
  legends.push({
    orient: 'vertical', left: colLeft[c] + 4, top: rowTop[r] + rowHeight[r] - 35,
    data: seriesNames, icon: 'rect', itemWidth: 20, itemHeight: 1.6, itemGap: 2,
    padding: [5, 6, 4, 4], backgroundColor: 'rgba(255,255,255,0.8)',
    borderColor: '#d4d4d4', borderWidth: 1, borderRadius: 3,
    selectedMode: false,
    textStyle: {color: INK, fontSize: 9, fontFamily: FONT, lineHeight: 11}
  });
});

// Figure title and column titles
const graphics = [{
  type: 'text', x: 497, y: 12,
  style: {
    text: '{n|Q-values with }{i|R}{s|simple}{n| for the 3 best videos}',
    align: 'center', verticalAlign: 'middle',
    rich: {
      n: {fontSize: 10, fontFamily: FONT, fill: INK, lineHeight: 14, verticalAlign: 'middle'},
      i: {fontSize: 10, fontFamily: FONT, fontStyle: 'italic', fill: INK, lineHeight: 14, verticalAlign: 'middle'},
      s: {fontSize: 7, fontFamily: FONT, fontStyle: 'italic', fill: INK, lineHeight: 9, verticalAlign: 'bottom'}
    }
  }
}];
epsilonLabels.forEach(function (e, c) {
  graphics.push({
    type: 'text', x: colLeft[c] + colWidth[c] / 2, y: 37.5,
    style: {
      text: '{g|\u03b5}{n| = ' + e + '}',
      align: 'center', verticalAlign: 'middle',
      rich: {
        g: {fontSize: 9.5, fontFamily: FONT, fontStyle: 'italic', fill: INK},
        n: {fontSize: 9.5, fontFamily: FONT, fill: INK}
      }
    }
  });
});

const chart = echarts.init(document.getElementById('chart'), null, {renderer: 'canvas'});
chart.setOption({
  animation: false,
  backgroundColor: '#ffffff',
  grid: grids,
  xAxis: xAxes,
  yAxis: yAxes,
  legend: legends,
  series: series,
  graphic: graphics
});
</script>
</body>
</html>
